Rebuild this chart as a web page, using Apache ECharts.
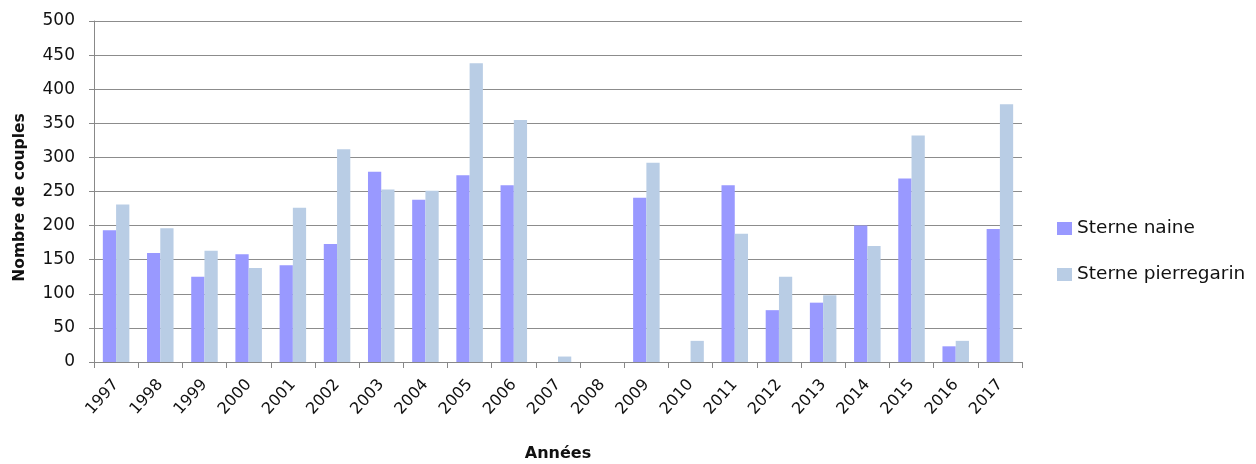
<!DOCTYPE html>
<html><head><meta charset="utf-8">
<script src="https://cdn.jsdelivr.net/npm/echarts@6/dist/echarts.min.js"></script>
<style>html,body{margin:0;padding:0;background:#fff}#c{width:1256px;height:464px}</style>
</head><body><div id="c"></div>
<script>
var years = ['1997','1998','1999','2000','2001','2002','2003','2004','2005','2006','2007','2008','2009','2010','2011','2012','2013','2014','2015','2016','2017'];
var sterneNaine = [193,160,125,158,142,173,279,238,274,259,0,0,241,0,259,76,87,200,269,23,195];
var sternePierregarin = [231,196,163,138,226,312,253,251,438,355,8,0,292,31,188,125,98,170,332,31,378];
var yTicks = [0,50,100,150,200,250,300,350,400,450,500];

var font = '"DejaVu Sans", sans-serif';
var chart = echarts.init(document.getElementById('c'));
chart.setOption({
  animation: false,
  textStyle: {fontFamily: font},
  grid: {left: 94, right: 234, top: 21, bottom: 102, containLabel: false, outerBoundsMode: 'none'},
  legend: {
    orient: 'vertical', left: 1052, top: 214, itemWidth: 15, itemHeight: 13, itemGap: 27,
    icon: 'rect',
    textStyle: {fontSize: 18.5, color: '#111', fontFamily: font}
  },
  xAxis: {
    type: 'category', data: years,
    name: 'Années', nameLocation: 'middle', nameGap: 84,
    nameTextStyle: {fontSize: 16, fontWeight: 'bold', color: '#111'},
    axisLine: {lineStyle: {color: '#888', width: 1}},
    axisTick: {show: true, length: 6, lineStyle: {color: '#888'}},
    axisLabel: {rotate: 48, fontSize: 16, color: '#111', margin: 20, interval: 0}
  },
  yAxis: {
    type: 'value', min: yTicks[0], max: yTicks[yTicks.length-1], interval: 50,
    name: 'Nombre de couples', nameLocation: 'middle', nameGap: 66,
    nameTextStyle: {fontSize: 15.5, fontWeight: 'bold', color: '#111', padding: [0, 12, 0, 0]},
    axisLine: {show: true, lineStyle: {color: '#888'}},
    axisTick: {show: true, length: 5, lineStyle: {color: '#888'}},
    axisLabel: {fontSize: 17, color: '#111', margin: 19},
    splitLine: {lineStyle: {color: '#8c8c8c', width: 1}}
  },
  series: [
    {name: 'Sterne naine', type: 'bar', data: sterneNaine, barGap: '0%', barCategoryGap: '40%',
     itemStyle: {color: '#9999ff'}},
    {name: 'Sterne pierregarin', type: 'bar', data: sternePierregarin, barGap: '0%', barCategoryGap: '40%',
     itemStyle: {color: '#b9cde5'}}
  ]
});
</script></body></html>
